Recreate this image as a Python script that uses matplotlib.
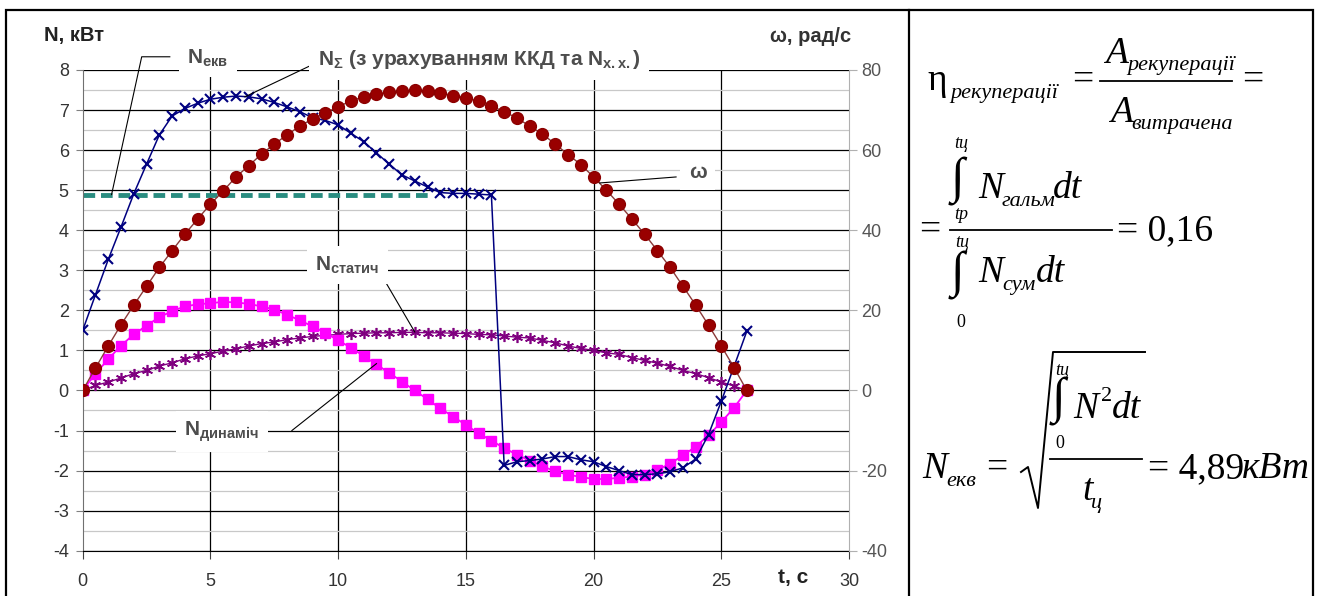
import numpy as np
import matplotlib.pyplot as plt
from matplotlib.lines import Line2D
from matplotlib.patches import Rectangle

W, H = 1317, 596

plt.rcParams['font.family'] = ['Liberation Sans', 'DejaVu Sans']
plt.rcParams['axes.unicode_minus'] = False
plt.rcParams['mathtext.fontset'] = 'custom'
plt.rcParams['mathtext.rm'] = 'Liberation Sans'
plt.rcParams['mathtext.it'] = 'Liberation Sans:italic'
plt.rcParams['mathtext.bf'] = 'Liberation Sans:bold'

# time, s (step 0.5 s)
t = np.arange(0, 26.5, 0.5)

# N sum, kW
n_sum = [1.5, 2.39, 3.27, 4.08, 4.91, 5.65, 6.38, 6.85, 7.04, 7.17, 7.27,
         7.32, 7.35, 7.33, 7.28, 7.19, 7.08, 6.96, 6.81, 6.74, 6.63, 6.42,
         6.21, 5.93, 5.65, 5.38, 5.23, 5.08, 4.94, 4.92, 4.92, 4.9, 4.88,
         -1.87, -1.78, -1.75, -1.71, -1.65, -1.65, -1.73, -1.78, -1.9, -2.0,
         -2.1, -2.1, -2.08, -2.03, -1.93, -1.71, -1.1, -0.27, 0.6, 1.48]

# N dynamic, kW
n_dyn = [0, 0.42, 0.78, 1.12, 1.4, 1.62, 1.83, 1.98, 2.1, 2.15, 2.18, 2.21,
         2.2, 2.16, 2.1, 2.02, 1.89, 1.75, 1.6, 1.44, 1.25, 1.07, 0.86, 0.65,
         0.44, 0.22, 0, -0.22, -0.45, -0.65, -0.86, -1.07, -1.25, -1.44,
         -1.6, -1.75, -1.89, -2.02, -2.1, -2.16, -2.21, -2.21, -2.18, -2.15,
         -2.1, -1.98, -1.83, -1.62, -1.4, -1.12, -0.79, -0.43, 0]

# N static, kW
n_stat = [0, 0.125, 0.21, 0.31, 0.42, 0.5, 0.61, 0.69, 0.79, 0.86, 0.92,
          0.98, 1.04, 1.11, 1.17, 1.21, 1.27, 1.31, 1.35, 1.375, 1.4, 1.42,
          1.43, 1.44, 1.44, 1.45, 1.45, 1.44, 1.44, 1.43, 1.42, 1.4, 1.39,
          1.36, 1.33, 1.31, 1.25, 1.19, 1.11, 1.05, 1.0, 0.94, 0.9, 0.82,
          0.75, 0.68, 0.6, 0.5, 0.42, 0.32, 0.21, 0.11, 0]

# omega, rad/s
omega = [0, 5.6, 11.1, 16.4, 21.3, 26.0, 30.7, 34.9, 39.0, 42.8, 46.5, 49.8,
         53.3, 56.1, 59.0, 61.5, 63.8, 66.0, 67.8, 69.3, 70.8, 72.3, 73.3,
         73.9, 74.5, 74.8, 74.9, 74.7, 74.3, 73.6, 73.1, 72.2, 71.0, 69.6,
         68.0, 66.0, 64.0, 61.5, 58.9, 56.4, 53.3, 50.0, 46.5, 42.8, 39.0,
         34.9, 30.7, 26.0, 21.3, 16.3, 11.1, 5.7, 0]

n_ekv = 4.89
n_ekv_t = [0, 13.7]

fig = plt.figure(figsize=(W / 100, H / 100), dpi=100)
ax = fig.add_axes([82.7 / W, 1 - 550.7 / H, (849 - 82.7) / W, (550.7 - 70) / H])
ax2 = ax.twinx()

ax.set_xlim(0, 30)
ax.set_ylim(-4, 8)
ax2.set_ylim(-40, 80)
ax.set_xticks(range(0, 31, 5))
ax.set_yticks(range(-4, 9))
ax.set_yticks(np.arange(-3.5, 8, 1.0), minor=True)
ax2.set_yticks(range(-40, 81, 20))

ax.grid(which='major', axis='y', color='black', lw=0.9, zorder=0)
ax.grid(which='minor', axis='y', color='#c8c8c8', lw=0.9, zorder=0)
ax.grid(which='major', axis='x', color='black', lw=0.9, zorder=0)
ax.get_xgridlines()[-1].set_visible(False)
ax.get_xgridlines()[0].set_visible(False)
ax.set_axisbelow(True)

for a in (ax, ax2):
    a.spines['top'].set_visible(False)
ax.spines['right'].set_visible(False)
ax2.spines['left'].set_visible(False)
ax2.spines['bottom'].set_visible(False)
ax.spines['left'].set_color('#707070')
ax.spines['bottom'].set_color('black')
ax2.spines['right'].set_color('#b0b0b0')

ax.tick_params(axis='y', which='major', direction='out', length=5, color='#808080',
               labelsize=13, labelcolor='#333333', pad=5)
ax.tick_params(axis='y', which='minor', length=0)
ax.tick_params(axis='x', direction='out', length=6, color='#404040',
               labelsize=13, labelcolor='#333333', pad=10)
ax2.tick_params(axis='y', direction='out', length=6, color='#b0b0b0',
                labelsize=13, labelcolor='#555555', pad=3)

# series
ax.plot(n_ekv_t, [n_ekv, n_ekv], color='#2a8c80', lw=3.5, dashes=(2.4, 1.2), zorder=2)
ax.plot(t, n_stat, color='#800080', lw=1.0, marker=(6, 2, 0), ms=8, mew=1.2,
        mec='#800080', zorder=3)
ax.plot(t, n_dyn, color='#ff00ff', lw=1.3, marker='s', ms=7, mfc='#ff00ff',
        mec='#ff00ff', zorder=4)
ax.plot(t, n_sum, color='#000080', lw=1.1, marker='x', ms=7, mew=1.5,
        mec='#000080', zorder=6)
ax2.plot(t, omega, color='#8b3a3a', lw=1.0, marker='o', ms=8.5, mfc='#990000',
         mec='#8b0000', zorder=5)

# leader lines
leaders = [
    ([1.13, 2.31, 3.41], [4.89, 8.33, 8.33]),
    ([6.35, 9.15], [7.33, 8.18]),
    ([20.24, 23.23], [5.18, 5.33]),
    ([13.0, 11.89], [1.46, 2.67]),
    ([11.5, 8.19], [0.67, -1.0]),
]
for lx, ly in leaders:
    ax2.plot(lx, [v * 10 for v in ly], color='black', lw=0.8, clip_on=False, zorder=7)

box = dict(boxstyle='square,pad=0.4', facecolor='white', edgecolor='none')
lab = dict(color='#4d4d4d', fontsize=15, fontweight='bold', va='center', zorder=8,
           clip_on=False, bbox=box)
ax2.text(4.9, 83.0, r'$\mathbf{N_{екв}}$', ha='center', **lab)
ax2.text(9.2, 82.5, r'$\mathbf{N_{Σ}}$ (з урахуванням ККД та N$_{\mathbf{х.х.}}$)',
         ha='left', **lab)
ax2.text(24.07, 54.5, 'ω', ha='center', **lab)
ax2.text(10.37, 31.25, r'$\mathbf{N_{статич}}$', ha='center', **lab)
ax2.text(5.45, -10.3, r'$\mathbf{N_{динаміч}}$', ha='center', **lab)


def px(x, y):
    return x / W, 1 - y / H


fig.text(*px(44, 35), 'N, кВт', fontsize=14.5, fontweight='bold', color='#222222',
         ha='left', va='center')
fig.text(*px(851, 36), 'ω, рад/с', fontsize=14.5, fontweight='bold', color='#333333',
         ha='right', va='center')
fig.text(*px(793, 578), 't, с', fontsize=15, fontweight='bold', color='#222222',
         ha='center', va='center')

# frame
fig.add_artist(Rectangle(px(6, 700), (1313 - 6) / W, 690 / H, fill=False,
                         edgecolor='black', lw=1.6, transform=fig.transFigure))
fig.add_artist(Line2D([909 / W, 909 / W], [0, 1 - 10 / H], color='black', lw=1.6))

# formulas
serif = ['Liberation Serif', 'DejaVu Serif']


def ftx(x, y, s, size, style='normal', ha='left', va='baseline'):
    fig.text(*px(x, y), s, fontsize=size, fontstyle=style, ha=ha, va=va,
             family=serif, color='black')


def fline(xs, ys, lw=1.3):
    fig.add_artist(Line2D([x / W for x in xs], [1 - y / H for y in ys],
                          color='black', lw=lw))


BIG, SUB, LIM, INT = 27, 16, 13, 36

# row 1
ftx(927, 90, 'η', BIG)
ftx(950, 98, 'рекуперації', SUB, 'italic')
ftx(1072, 90, '=', BIG)
ftx(1105, 63, 'A', BIG, 'italic')
ftx(1127, 70, 'рекуперації', SUB, 'italic')
fline([1100, 1232], [81, 81])
ftx(1110, 122, 'A', BIG, 'italic')
ftx(1131, 129, 'витрачена', SUB, 'italic')
ftx(1242, 90, '=', BIG)

# row 2
ftx(954, 148, 'tц', LIM, 'italic')
ftx(957, 182, '∫', INT, ha='center', va='center')
ftx(978, 198, 'N', BIG, 'italic')
ftx(1002, 206, 'гальм', SUB, 'italic')
ftx(1053, 198, 'dt', BIG, 'italic')
ftx(954, 219, 'tp', LIM, 'italic')
ftx(919, 240, '=', BIG)
fline([950, 1112], [230, 230])
ftx(1117, 240, '= 0,16', BIG)
ftx(955, 247, 'tц', LIM, 'italic')
ftx(957, 276, '∫', INT, ha='center', va='center')
ftx(978, 282, 'N', BIG, 'italic')
ftx(1002, 290, 'сум', SUB, 'italic')
ftx(1036, 282, 'dt', BIG, 'italic')
ftx(956, 327, '0', LIM)

# row 3
ftx(922, 478, 'N', BIG, 'italic')
ftx(946, 486, 'екв', SUB, 'italic')
ftx(986, 478, '=', BIG)
fline([1021, 1028, 1038, 1053, 1145], [472, 467, 508, 352, 352], lw=1.4)
ftx(1055, 375, 'tц', LIM, 'italic')
ftx(1058, 402, '∫', INT, ha='center', va='center')
ftx(1073, 418, 'N', BIG, 'italic')
ftx(1101, 401, '2', SUB)
ftx(1112, 418, 'dt', BIG, 'italic')
ftx(1055, 448, '0', LIM)
fline([1050, 1142], [459, 459])
ftx(1082, 500, 't', BIG, 'italic')
ftx(1091, 508, 'ц', SUB, 'italic')
ftx(1148, 478, '= 4,89', BIG)
ftx(1242, 478, 'кВт', BIG, 'italic')

fig.savefig('out.png', dpi=100)
